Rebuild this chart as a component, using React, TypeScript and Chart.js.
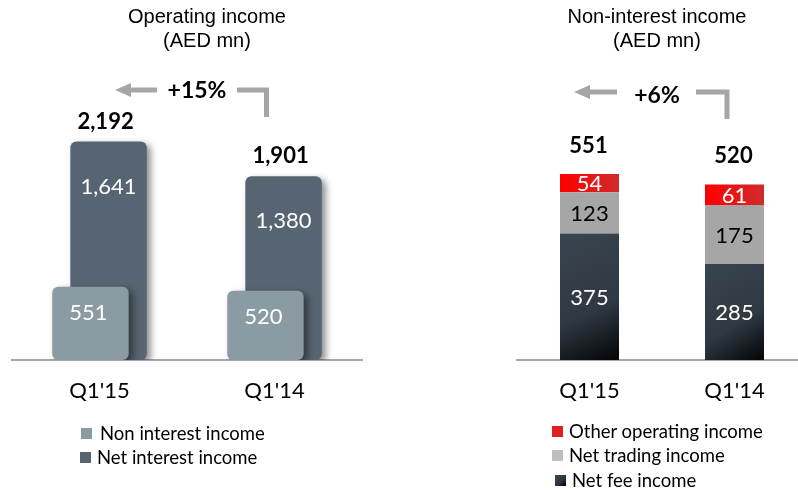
import React, { useEffect, useRef } from "react";
import { Chart, registerables } from "chart.js";

Chart.register(...registerables);

// ---------- data ----------
const categories = ["Q1'15", "Q1'14"];

const nonInterestIncome = [551, 520];
const netInterestIncome = [1641, 1380];
const operatingTotals = [2192, 1901];
const operatingGrowth = "+15%";

const netFeeIncome = [375, 285];
const netTradingIncome = [123, 175];
const otherOperatingIncome = [54, 61];
const nonInterestTotals = [551, 520];
const nonInterestGrowth = "+6%";

const operatingTitle = ["Operating income", "(AED mn)"];
const nonInterestTitle = ["Non-interest income", "(AED mn)"];
const operatingLegend = ["Non interest income", "Net interest income"];
const nonInterestLegend = ["Other operating income", "Net trading income", "Net fee income"];

// ---------- style ----------
const BODY_FONT = "Lato, 'Open Sans', 'DejaVu Sans', sans-serif";
const TITLE_FONT = "'Liberation Sans', Arial, sans-serif";
const LIGHT_SLATE = "#8A9BA4";
const DARK_SLATE = "#566571";
const TRADING_GREY = "#A6A6A6";
const ARROW_GREY = "#A6A6A6";

const fmt = (v: number) => v.toLocaleString("en-US");

function OperatingChart() {
  const ref = useRef<HTMLCanvasElement>(null);
  useEffect(() => {
    if (!ref.current) return;
    const shadow = {
      id: "barShadow",
      beforeDatasetDraw(chart: any) {
        const c = chart.ctx;
        c.save();
        c.shadowColor = "rgba(0,0,0,0.45)";
        c.shadowBlur = 7;
        c.shadowOffsetX = 4;
        c.shadowOffsetY = 3;
      },
      afterDatasetDraw(chart: any) {
        chart.ctx.restore();
      },
    };
    const labels = {
      id: "opLabels",
      afterDatasetsDraw(chart: any) {
        const c = chart.ctx;
        const light = chart.getDatasetMeta(0).data;
        const dark = chart.getDatasetMeta(1).data;
        c.save();
        c.textAlign = "center";
        c.textBaseline = "middle";
        c.fillStyle = "#ffffff";
        c.font = `22px ${BODY_FONT}`;
        light.forEach((b: any, i: number) => c.fillText(fmt(nonInterestIncome[i]), b.x - 2, b.y + 26));
        dark.forEach((b: any, i: number) => c.fillText(fmt(netInterestIncome[i]), b.x, b.y + 45));
        c.fillStyle = "#000000";
        c.font = `bold 22px ${BODY_FONT}`;
        dark.forEach((b: any, i: number) => c.fillText(fmt(operatingTotals[i]), b.x - 3, b.y - 20));
        c.restore();
      },
    };
    const chart = new Chart(ref.current, {
      type: "bar",
      data: {
        labels: categories,
        datasets: [
          {
            label: operatingLegend[0],
            data: nonInterestIncome,
            backgroundColor: LIGHT_SLATE,
            order: 0,
            borderRadius: 6,
            borderSkipped: false,
            categoryPercentage: 0.207,
            barPercentage: 4.22,
          },
          {
            label: operatingLegend[1],
            data: netInterestIncome,
            backgroundColor: DARK_SLATE,
            order: 1,
            borderRadius: 6,
            borderSkipped: false,
            categoryPercentage: 0.207,
            barPercentage: 4.22,
          },
        ],
      },
      options: {
        animation: false,
        responsive: false,
        maintainAspectRatio: false,
        layout: { padding: { top: 60, left: 12, right: 38, bottom: 0 } },
        plugins: { legend: { display: false }, tooltip: { enabled: false } },
        scales: {
          x: {
            grid: { display: false, drawTicks: false },
            border: { display: true, color: "#A6A6A6", width: 2 },
            ticks: { color: "#000", font: { family: BODY_FONT, size: 22 }, padding: 18 },
            afterFit: (s: any) => {
              s.height = 131;
            },
          },
          y: { display: false, min: 0, max: 2254 },
        },
      },
      plugins: [shadow, labels],
    } as any);
    return () => chart.destroy();
  }, []);
  return (
    <canvas
      ref={ref}
      width={400}
      height={491}
      style={{ position: "absolute", left: 0, top: 0, width: 400, height: 491 }}
    />
  );
}

function NonInterestChart() {
  const ref = useRef<HTMLCanvasElement>(null);
  useEffect(() => {
    if (!ref.current) return;
    const barGeom = (ctx: any) => {
      const chart = ctx.chart;
      const xs = chart.scales?.x;
      const ys = chart.scales?.y;
      if (!xs || !ys || !chart.chartArea) return null;
      const cx = xs.getPixelForValue(ctx.dataIndex);
      const half = (0.407 * (xs.width / categories.length)) / 2;
      return { x0: cx - half, x1: cx + half };
    };
    const feeColor = (ctx: any) => {
      const g = barGeom(ctx);
      if (!g) return "#333E49";
      const ys = ctx.chart.scales.y;
      const top = ys.getPixelForValue(netFeeIncome[ctx.dataIndex]);
      const base = ys.getPixelForValue(0);
      const grad = ctx.chart.ctx.createLinearGradient(g.x0, top, g.x1, base);
      grad.addColorStop(0, "#38444F");
      grad.addColorStop(0.6, "#2F3944");
      grad.addColorStop(1, "#030405");
      return grad;
    };
    const redColor = (ctx: any) => {
      const g = barGeom(ctx);
      if (!g) return "#E5201F";
      const grad = ctx.chart.ctx.createLinearGradient(g.x0, 0, g.x1, 0);
      grad.addColorStop(0, "#FF0000");
      grad.addColorStop(1, "#CF2B2B");
      return grad;
    };
    const labels = {
      id: "niLabels",
      afterDatasetsDraw(chart: any) {
        const c = chart.ctx;
        const series = [netFeeIncome, netTradingIncome, otherOperatingIncome];
        const colors = ["#ffffff", "#000000", "#ffffff"];
        c.save();
        c.textAlign = "center";
        c.textBaseline = "middle";
        c.font = `22px ${BODY_FONT}`;
        series.forEach((vals, d) => {
          c.fillStyle = colors[d];
          chart.getDatasetMeta(d).data.forEach((b: any, i: number) => {
            c.fillText(fmt(vals[i]), b.x, (b.y + b.base) / 2 + 1);
          });
        });
        c.fillStyle = "#000000";
        c.font = `bold 22px ${BODY_FONT}`;
        chart.getDatasetMeta(2).data.forEach((b: any, i: number) => {
          c.fillText(fmt(nonInterestTotals[i]), b.x - 1, b.y - 28);
        });
        c.restore();
      },
    };
    const chart = new Chart(ref.current, {
      type: "bar",
      data: {
        labels: categories,
        datasets: [
          { label: nonInterestLegend[2], data: netFeeIncome, backgroundColor: feeColor },
          { label: nonInterestLegend[1], data: netTradingIncome, backgroundColor: TRADING_GREY },
          { label: nonInterestLegend[0], data: otherOperatingIncome, backgroundColor: redColor },
        ],
      },
      options: {
        animation: false,
        responsive: false,
        maintainAspectRatio: false,
        datasets: { bar: { categoryPercentage: 1, barPercentage: 0.407 } },
        layout: { padding: { top: 60, left: 17, right: 3, bottom: 0 } },
        plugins: { legend: { display: false }, tooltip: { enabled: false } },
        scales: {
          x: {
            stacked: true,
            grid: { display: false, drawTicks: false },
            border: { display: true, color: "#A6A6A6", width: 2 },
            ticks: { color: "#000", font: { family: BODY_FONT, size: 22 }, padding: 18 },
            afterFit: (s: any) => {
              s.height = 131;
            },
          },
          y: { stacked: true, display: false, min: 0, max: 890 },
        },
      },
      plugins: [labels],
    } as any);
    return () => chart.destroy();
  }, []);
  return (
    <canvas
      ref={ref}
      width={310}
      height={491}
      style={{ position: "absolute", left: 500, top: 0, width: 310, height: 491 }}
    />
  );
}

const abs = (extra: React.CSSProperties): React.CSSProperties => ({ position: "absolute", ...extra });

function Title({ lines, cx }: { lines: string[]; cx: number }) {
  return (
    <div
      style={abs({
        left: cx - 150,
        top: 4,
        width: 300,
        textAlign: "center",
        fontFamily: TITLE_FONT,
        fontSize: 20,
        lineHeight: "24px",
        color: "#000",
      })}
    >
      {lines.map((l) => (
        <div key={l}>{l}</div>
      ))}
    </div>
  );
}

function Growth({ text, cx, cy }: { text: string; cx: number; cy: number }) {
  return (
    <div
      style={abs({
        left: cx - 50,
        top: cy - 14,
        width: 100,
        height: 28,
        lineHeight: "28px",
        textAlign: "center",
        fontFamily: BODY_FONT,
        fontWeight: "bold",
        fontSize: 23,
        color: "#000",
      })}
    >
      {text}
    </div>
  );
}

function LegendItem({
  text,
  sq,
  tx,
  cy,
  color,
}: {
  text: string;
  sq: number;
  tx: number;
  cy: number;
  color: string;
}) {
  return (
    <>
      <div style={abs({ left: sq, top: cy - 5.5, width: 11, height: 11, background: color })} />
      <div
        style={abs({
          left: tx,
          top: cy - 11,
          height: 22,
          lineHeight: "22px",
          whiteSpace: "nowrap",
          fontFamily: BODY_FONT,
          fontSize: 18.5,
          color: "#000",
        })}
      >
        {text}
      </div>
    </>
  );
}

export default function App() {
  return (
    <div
      style={{
        position: "fixed",
        left: 0,
        top: 0,
        width: 798,
        height: 491,
        overflow: "hidden",
        background: "#fff",
      }}
    >
      <OperatingChart />
      <NonInterestChart />
      <Title lines={operatingTitle} cx={207} />
      <Title lines={nonInterestTitle} cx={657} />
      <svg width={798} height={491} style={abs({ left: 0, top: 0, pointerEvents: "none" })}>
        <g fill={ARROW_GREY} stroke="none">
          <polygon points="115,90 131,83 131,97" />
          <polygon points="574,92 590,85 590,99" />
        </g>
        <g fill="none" stroke={ARROW_GREY} strokeWidth={5}>
          <line x1={130} y1={90} x2={157} y2={90} />
          <polyline points="237,90 266.5,90 266.5,117" />
          <line x1={589} y1={92} x2={617} y2={92} />
          <polyline points="696,92 727,92 727,119" />
        </g>
      </svg>
      <Growth text={operatingGrowth} cx={197} cy={89} />
      <Growth text={nonInterestGrowth} cx={657} cy={94} />
      <LegendItem text={operatingLegend[0]} sq={81} tx={100} cy={433} color={LIGHT_SLATE} />
      <LegendItem text={operatingLegend[1]} sq={80} tx={97} cy={457} color={DARK_SLATE} />
      <LegendItem text={nonInterestLegend[0]} sq={552} tx={569} cy={431} color="#E02020" />
      <LegendItem text={nonInterestLegend[1]} sq={552} tx={569} cy={455} color="#BFBFBF" />
      <LegendItem
        text={nonInterestLegend[2]}
        sq={555}
        tx={572}
        cy={480}
        color="linear-gradient(135deg, #3A4650 0%, #2E3842 55%, #000 100%)"
      />
    </div>
  );
}
